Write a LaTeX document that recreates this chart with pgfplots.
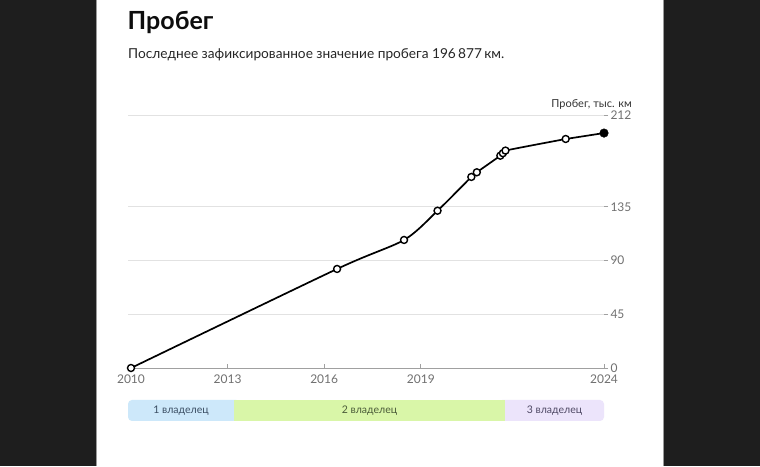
\documentclass[border=0pt]{standalone}
\usepackage{fontspec}
\setmainfont{Lato}
\usepackage{pgfplots}
\pgfplotsset{compat=1.18}
\definecolor{bgdark}{HTML}{1E1E1E}
\definecolor{edge}{HTML}{9A9A9A}
\definecolor{tickgray}{HTML}{707070}
\definecolor{gridgray}{HTML}{E2E2E2}
\definecolor{axisgray}{HTML}{A0A0A0}
\definecolor{own1}{HTML}{CDE8FA}
\definecolor{own2}{HTML}{D9F6A8}
\definecolor{own3}{HTML}{ECE4FB}
\definecolor{own1t}{HTML}{3B4E63}
\definecolor{own2t}{HTML}{4A5B38}
\definecolor{own3t}{HTML}{4F4965}
\begin{document}
\begin{tikzpicture}[x=1pt,y=1pt]
\fill[bgdark] (0,0) rectangle (760,-466);
\fill[white] (96,0) rectangle (664,-466);
\draw[edge, line width=1pt] (96.5,0)--(96.5,-466);
\draw[edge, line width=1pt] (663.5,0)--(663.5,-466);
\node[anchor=base west, inner sep=0, font=\fontsize{25}{27}\selectfont\bfseries, text=black!95] at (127.5,-29) {Пробег};
\node[anchor=base west, inner sep=0, font=\fontsize{13.7}{15}\selectfont, text=black!85] at (128,-58) {Последнее зафиксированное значение пробега 196\,877\,км.};
\begin{axis}[
  at={(128pt,-368pt)}, anchor=south west,
  scale only axis, width=476pt, height=253pt,
  xmin=2009.907, xmax=2024.69, ymin=0, ymax=212,
  clip=false,
  axis x line*=bottom, axis y line*=right,
  axis line style={-},
  x axis line style={draw=axisgray, line width=1pt},
  y axis line style={draw=none},
  xtick={2010,2013,2016,2019,2024.69},
  xticklabels={2010,2013,2016,2019,2024},
  ytick={0,45,90,135,212},
  xtick align=inside, ytick align=outside,
  major tick length=4pt,
  tick style={axisgray, line width=0.8pt},
  ymajorgrids, grid style={gridgray, line width=0.9pt},
  /pgf/number format/assume math mode=true,
  ticklabel style={font=\fontsize{12}{12}\selectfont, text=tickgray},
  xticklabel style={yshift=-3pt},
  yticklabel style={anchor=west, xshift=-1pt},
  scaled ticks=false,
]
% owner periods
\fill[own1, rounded corners=4pt] (axis cs:2009.907,-26.8) rectangle (axis cs:2013.40,-44.4);
\fill[own3, rounded corners=4pt] (axis cs:2021.40,-26.8) rectangle (axis cs:2024.69,-44.4);
\fill[own2] (axis cs:2013.199,-26.8) rectangle (axis cs:2021.615,-44.4);
\node[font=\fontsize{10.5}{11}\selectfont, text=own1t] at (axis cs:2011.553,-35.6) {1 владелец};
\node[font=\fontsize{10.5}{11}\selectfont, text=own2t] at (axis cs:2017.407,-35.6) {2 владелец};
\node[font=\fontsize{10.5}{11}\selectfont, text=own3t] at (axis cs:2023.152,-35.6) {3 владелец};
\addplot[black, line width=1.7pt, smooth, tension=0.45, mark=*, mark size=3.5pt,
  mark options={fill=white, draw=black, line width=1.4pt}] table {
x y
2010.00 0
2016.40 83.0
2018.48 107.3
2019.52 131.8
2020.57 160.1
2020.74 164.0
2021.47 177.9
2021.55 180.0
2021.63 182.2
2023.50 191.9
};
\addplot[black, line width=1.7pt, smooth, tension=0.45] table {
x y
2023.50 191.9
2024.69 196.877
};
\addplot[only marks, mark=*, mark size=4.3pt, mark options={fill=black, draw=black}] table {
x y
2024.69 196.877
};
\end{axis}
\node[anchor=base east, inner sep=0, font=\fontsize{11}{12}\selectfont, text=black!80] at (632,-107) {Пробег, тыс. км};
\pgfresetboundingbox
\path (0,0) rectangle (760,-466);
\end{tikzpicture}
\end{document}
